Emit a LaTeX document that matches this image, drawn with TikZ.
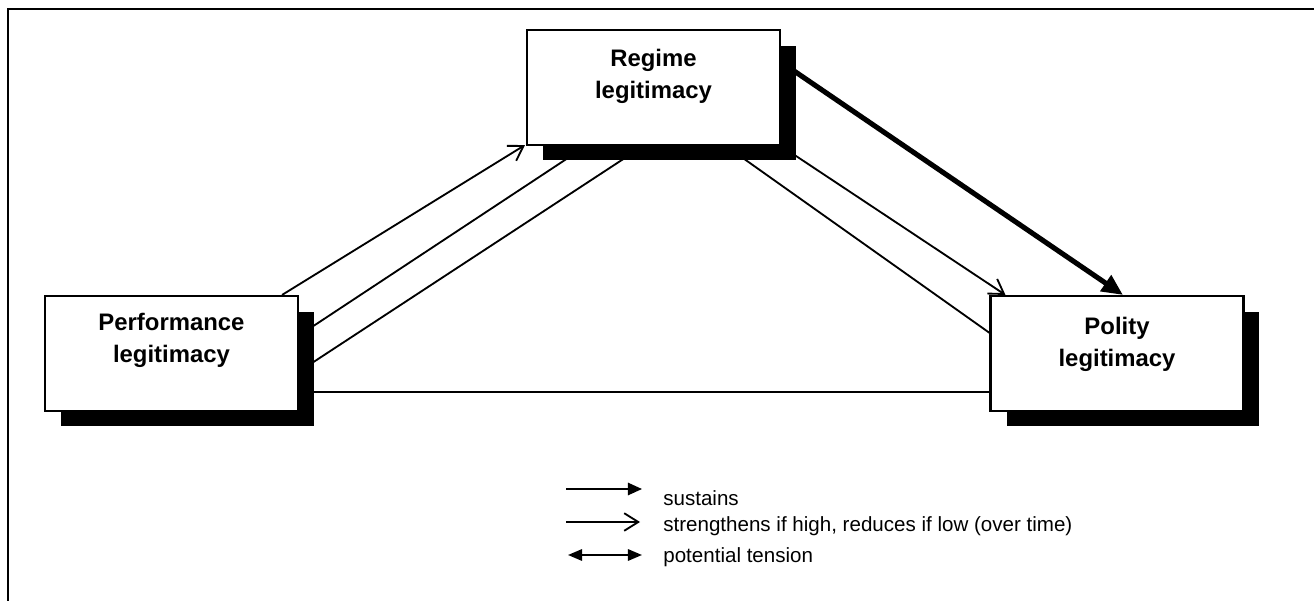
\documentclass[tikz,border=0pt]{standalone}
\usepackage{fontspec}
\setmainfont{Liberation Sans}
\usetikzlibrary{arrows.meta,shadows,backgrounds,positioning}
\tikzset{
	legbox/.style = {draw=black, line width=1.2pt, fill=white,
		minimum width=5.06cm, minimum height=2.3cm,
		drop shadow={shadow xshift=0.32cm, shadow yshift=-0.31cm, fill=black, opacity=1}},
	legtext/.style = {align=center, inner sep=0pt,
		font=\bfseries\fontsize{13.6}{18}\selectfont},
	keytext/.style = {anchor=base west, inner sep=0pt, font=\fontsize{11.7}{14}\selectfont},
	link/.style = {line width=1.05pt},
	grows/.style = {link, -{Straight Barb[length=8pt,width=10pt]}},
	holds/.style = {line width=2.9pt, -{Triangle[length=12pt,width=10.5pt]}},
	keyhold/.style = {line width=1.05pt, -{Triangle[length=8pt,width=7pt]}},
	keytense/.style = {line width=1.05pt, {Triangle[length=8pt,width=6.5pt]}-{Triangle[length=8pt,width=6.5pt]}}
}

\begin{document}
\begin{tikzpicture}[x=0.02cm, y=-0.02cm]
\useasboundingbox (0,0) rectangle (1314,601);
\draw[line width=1.4pt] (8,601) -- (8,9) -- (1314,9);

\node [legbox] (regime) at (653.5,87.5) {};
\node [legbox] (perf) at (171.5,353.5) {};
\node [legbox] (polity) at (1117,353.5) {};
\node [legtext] (regimeT) at ([shift={(0,-11)}]regime.center) {Regime\\legitimacy};
\node [legtext] (perfT) at ([shift={(0,-13)}]perf.center) {Performance\\legitimacy};
\node [legtext] (polityT) at ([shift={(0,-9)}]polity.center) {Polity\\legitimacy};

\begin{scope}[on background layer]
\draw[grows] ([shift={(-17,0)}]perf.north east) -- ([shift={(-1,-1)}]regime.south west);
\draw[link] ([shift={(-75,5)}]regime.south) -- ([shift={(0,-18)}]perf.east);
\draw[link] ([shift={(-18,5)}]regime.south) -- ([shift={(0,18)}]perf.east);
\draw[grows] (regime.south east) -- ([shift={(16,0)}]polity.north west);
\draw[link] ([shift={(-48,5)}]regime.south east) -- ([shift={(15,-10)}]polity.west);
\draw[holds] ([shift={(5,-22)}]regime.east) -- ([shift={(6,0)}]polity.north);
\draw[link] ([shift={(0,38.5)}]perf.east) -- ([shift={(0,38.5)}]polity.west);
\end{scope}

\node [keytext] (key1) at (663,505) {sustains};
\node [keytext] (key2) at (663,531) {strengthens if high, reduces if low (over time)};
\node [keytext] (key3) at (663,562) {potential tension};
\coordinate (k1a) at (566,489);
\coordinate (k1b) at (642,489);
\coordinate (k2a) at (566,522);
\coordinate (k2b) at (640,522);
\coordinate (k3a) at (568,555);
\coordinate (k3b) at (642,555);
\draw[keyhold] (k1a) -- (k1b);
\draw[grows] (k2a) -- (k2b);
\draw[keytense] (k3a) -- (k3b);
\end{tikzpicture}
\end{document}
